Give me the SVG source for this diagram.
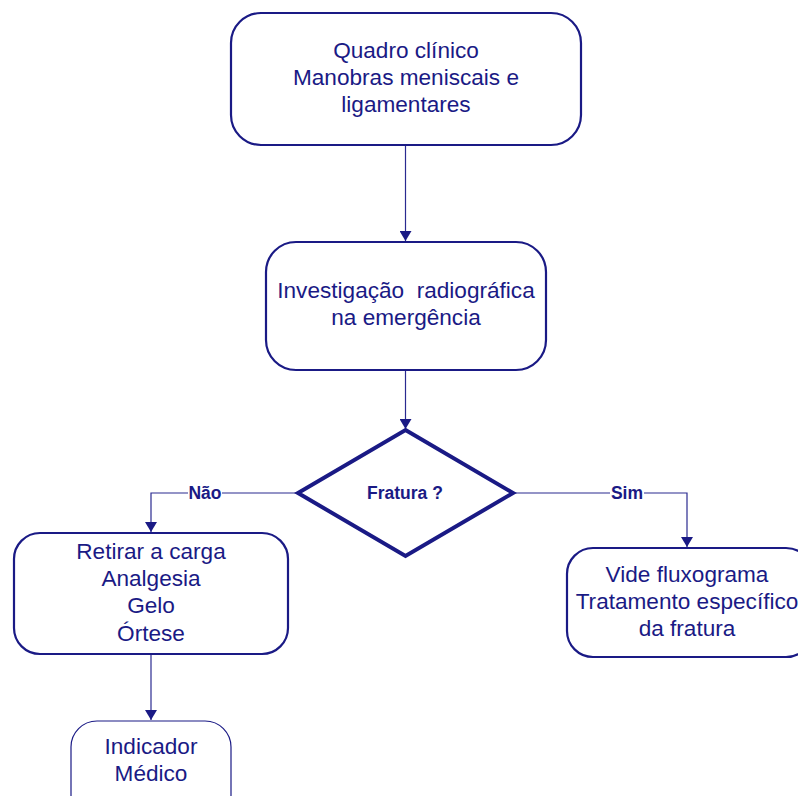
<svg xmlns="http://www.w3.org/2000/svg" width="798" height="796" viewBox="0 0 798 796">
<style>
.box{fill:#fff;stroke:#1a1a85;stroke-width:2.2}
.thin{fill:#fff;stroke:#1a1a85;stroke-width:1.2}
.dia{fill:#fff;stroke:#1a1a85;stroke-width:4;stroke-linejoin:miter}
.t{font-family:"Liberation Sans",Arial,sans-serif;font-size:22.6px;fill:#1a1a85;text-anchor:middle}
.b{font-family:"Liberation Sans",Arial,sans-serif;font-size:17.5px;font-weight:bold;fill:#1a1a85;text-anchor:middle}
.c{fill:none;stroke:#2a2a90;stroke-width:1.2}
</style>
<defs>
<marker id="ah" markerWidth="10" markerHeight="12" refX="10" refY="6" orient="auto" markerUnits="userSpaceOnUse">
<path d="M0,0 L10,6 L0,12 Z" fill="#1a1a85"/>
</marker>
</defs>
<rect width="798" height="796" fill="#fff"/>
<g id="connectors">
<path class="c" d="M405.5,145 V241" marker-end="url(#ah)"/>
<path class="c" d="M405.5,370 V429" marker-end="url(#ah)"/>
<path class="c" d="M298,493 H151 V532" marker-end="url(#ah)"/>
<path class="c" d="M513,493 H687 V547" marker-end="url(#ah)"/>
<path class="c" d="M151,654 V720" marker-end="url(#ah)"/>
<rect x="188" y="484" width="34" height="18" fill="#fff"/>
<text class="b" x="205" y="499">Não</text>
<rect x="610" y="484" width="34" height="18" fill="#fff"/>
<text class="b" x="627" y="499">Sim</text>
</g>
<g id="n1">
<rect class="box" x="231" y="13" width="350" height="132" rx="30"/>
<text class="t" x="406" y="58">Quadro clínico</text>
<text class="t" x="406" y="85">Manobras meniscais e</text>
<text class="t" x="406" y="112">ligamentares</text>
</g>
<g id="n2">
<rect class="box" x="266" y="242" width="280" height="128" rx="30"/>
<text class="t" x="406" y="298" xml:space="preserve">Investigação  radiográfica</text>
<text class="t" x="406" y="325">na emergência</text>
</g>
<g id="n3">
<path class="dia" d="M405.5,430 L513,493 L405.5,556 L298,493 Z"/>
<text class="b" x="405" y="499">Fratura ?</text>
</g>
<g id="n4">
<rect class="box" x="14" y="533" width="274" height="121" rx="26"/>
<text class="t" x="151" y="559">Retirar a carga</text>
<text class="t" x="151" y="586">Analgesia</text>
<text class="t" x="151" y="613">Gelo</text>
<text class="t" x="151" y="641">Órtese</text>
</g>
<g id="n5">
<rect class="box" x="567" y="548" width="245" height="109" rx="26"/>
<text class="t" x="687" y="582">Vide fluxograma</text>
<text class="t" x="687" y="609">Tratamento específico</text>
<text class="t" x="687" y="636">da fratura</text>
</g>
<g id="n6">
<rect class="thin" x="71" y="721" width="160" height="100" rx="26"/>
<text class="t" x="151" y="754">Indicador</text>
<text class="t" x="151" y="781">Médico</text>
</g>
</svg>
